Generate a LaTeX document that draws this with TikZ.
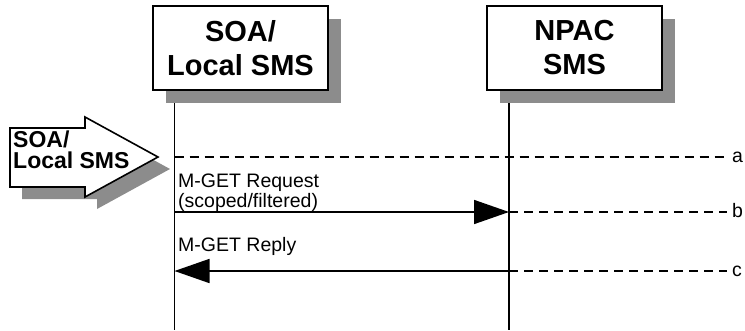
\documentclass[tikz,border=0pt]{standalone}
\usepackage{fontspec}
\setmainfont{Liberation Sans}
\usetikzlibrary{arrows.meta,shadows}

\begin{document}
\begin{tikzpicture}[x=1pt,y=-1pt,
    lifeline/.style={line width=1.6pt},
    msg/.style={line width=1.6pt,-{Triangle[length=35pt,width=24pt]}},
    dashline/.style={line width=1.4pt,dash pattern=on 9pt off 6pt},
    entity/.style={draw,line width=1.6pt,fill=white,minimum width=175pt,minimum height=84pt,
        align=center,font=\bfseries\fontsize{29}{34}\selectfont,
        drop shadow={shadow xshift=13pt,shadow yshift=-13pt,fill=black!45,opacity=1}},
    msglabel/.style={anchor=base west,inner sep=0pt,align=left,font=\fontsize{19.5}{18}\selectfont},
    pointlabel/.style={anchor=west,inner xsep=5pt,inner ysep=0pt,text height=10pt,text depth=0pt,
        font=\fontsize{19.5}{20}\selectfont}]
    \useasboundingbox (0,0) rectangle (745,330);

    % incoming SOA/Local SMS arrow
    \begin{scope}[shift={(12,12)}]
        \fill[black!45] (10,128) -- (85,128) -- (85,117) -- (158,157) -- (85,197) -- (85,187) -- (10,187) -- cycle;
    \end{scope}
    \filldraw[fill=white,line width=1.6pt] (10,128) -- (85,128) -- (85,117) -- (158,157) -- (85,197) -- (85,187) -- (10,187) -- cycle;
    \node[anchor=base west,inner sep=0pt,align=left,font=\bfseries\fontsize{23}{21}\selectfont] (src) at (13,168) {SOA/\\Local SMS};

    % lifelines
    \coordinate (soatop) at (174.5,90); \coordinate (soabot) at (174.5,330);
    \coordinate (npactop) at (509,90); \coordinate (npacbot) at (509,330);
    \draw[lifeline] (soatop)--(soabot); \draw[lifeline] (npactop)--(npacbot);

    % entities
    \node[entity] (soa) at (240.5,48) {SOA/\\Local SMS};
    \node[entity] (npac) at (574.5,48) {NPAC\\SMS};

    % points on the lifelines
    \coordinate (sa) at (174.5,157);
    \coordinate (sb) at (174.5,212); \coordinate (nb) at (509,212);
    \coordinate (sc) at (174.5,271); \coordinate (nc) at (509,271);
    \node[pointlabel] (a) at (727,157) {a};
    \node[pointlabel] (b) at (727,212) {b};
    \node[pointlabel] (c) at (727,271) {c};
    \foreach \p/\q in {sa/a,nb/b,nc/c} \draw[dashline] (\p)--(\q.west);

    % messages
    \draw[msg] (sb)--(nb); \draw[msg] (nc)--(sc);
    \node[msglabel] (req) at (178,207) {M-GET Request\\(scoped/filtered)};
    \node[msglabel] (rep) at (178,251) {M-GET Reply};
\end{tikzpicture}
\end{document}
